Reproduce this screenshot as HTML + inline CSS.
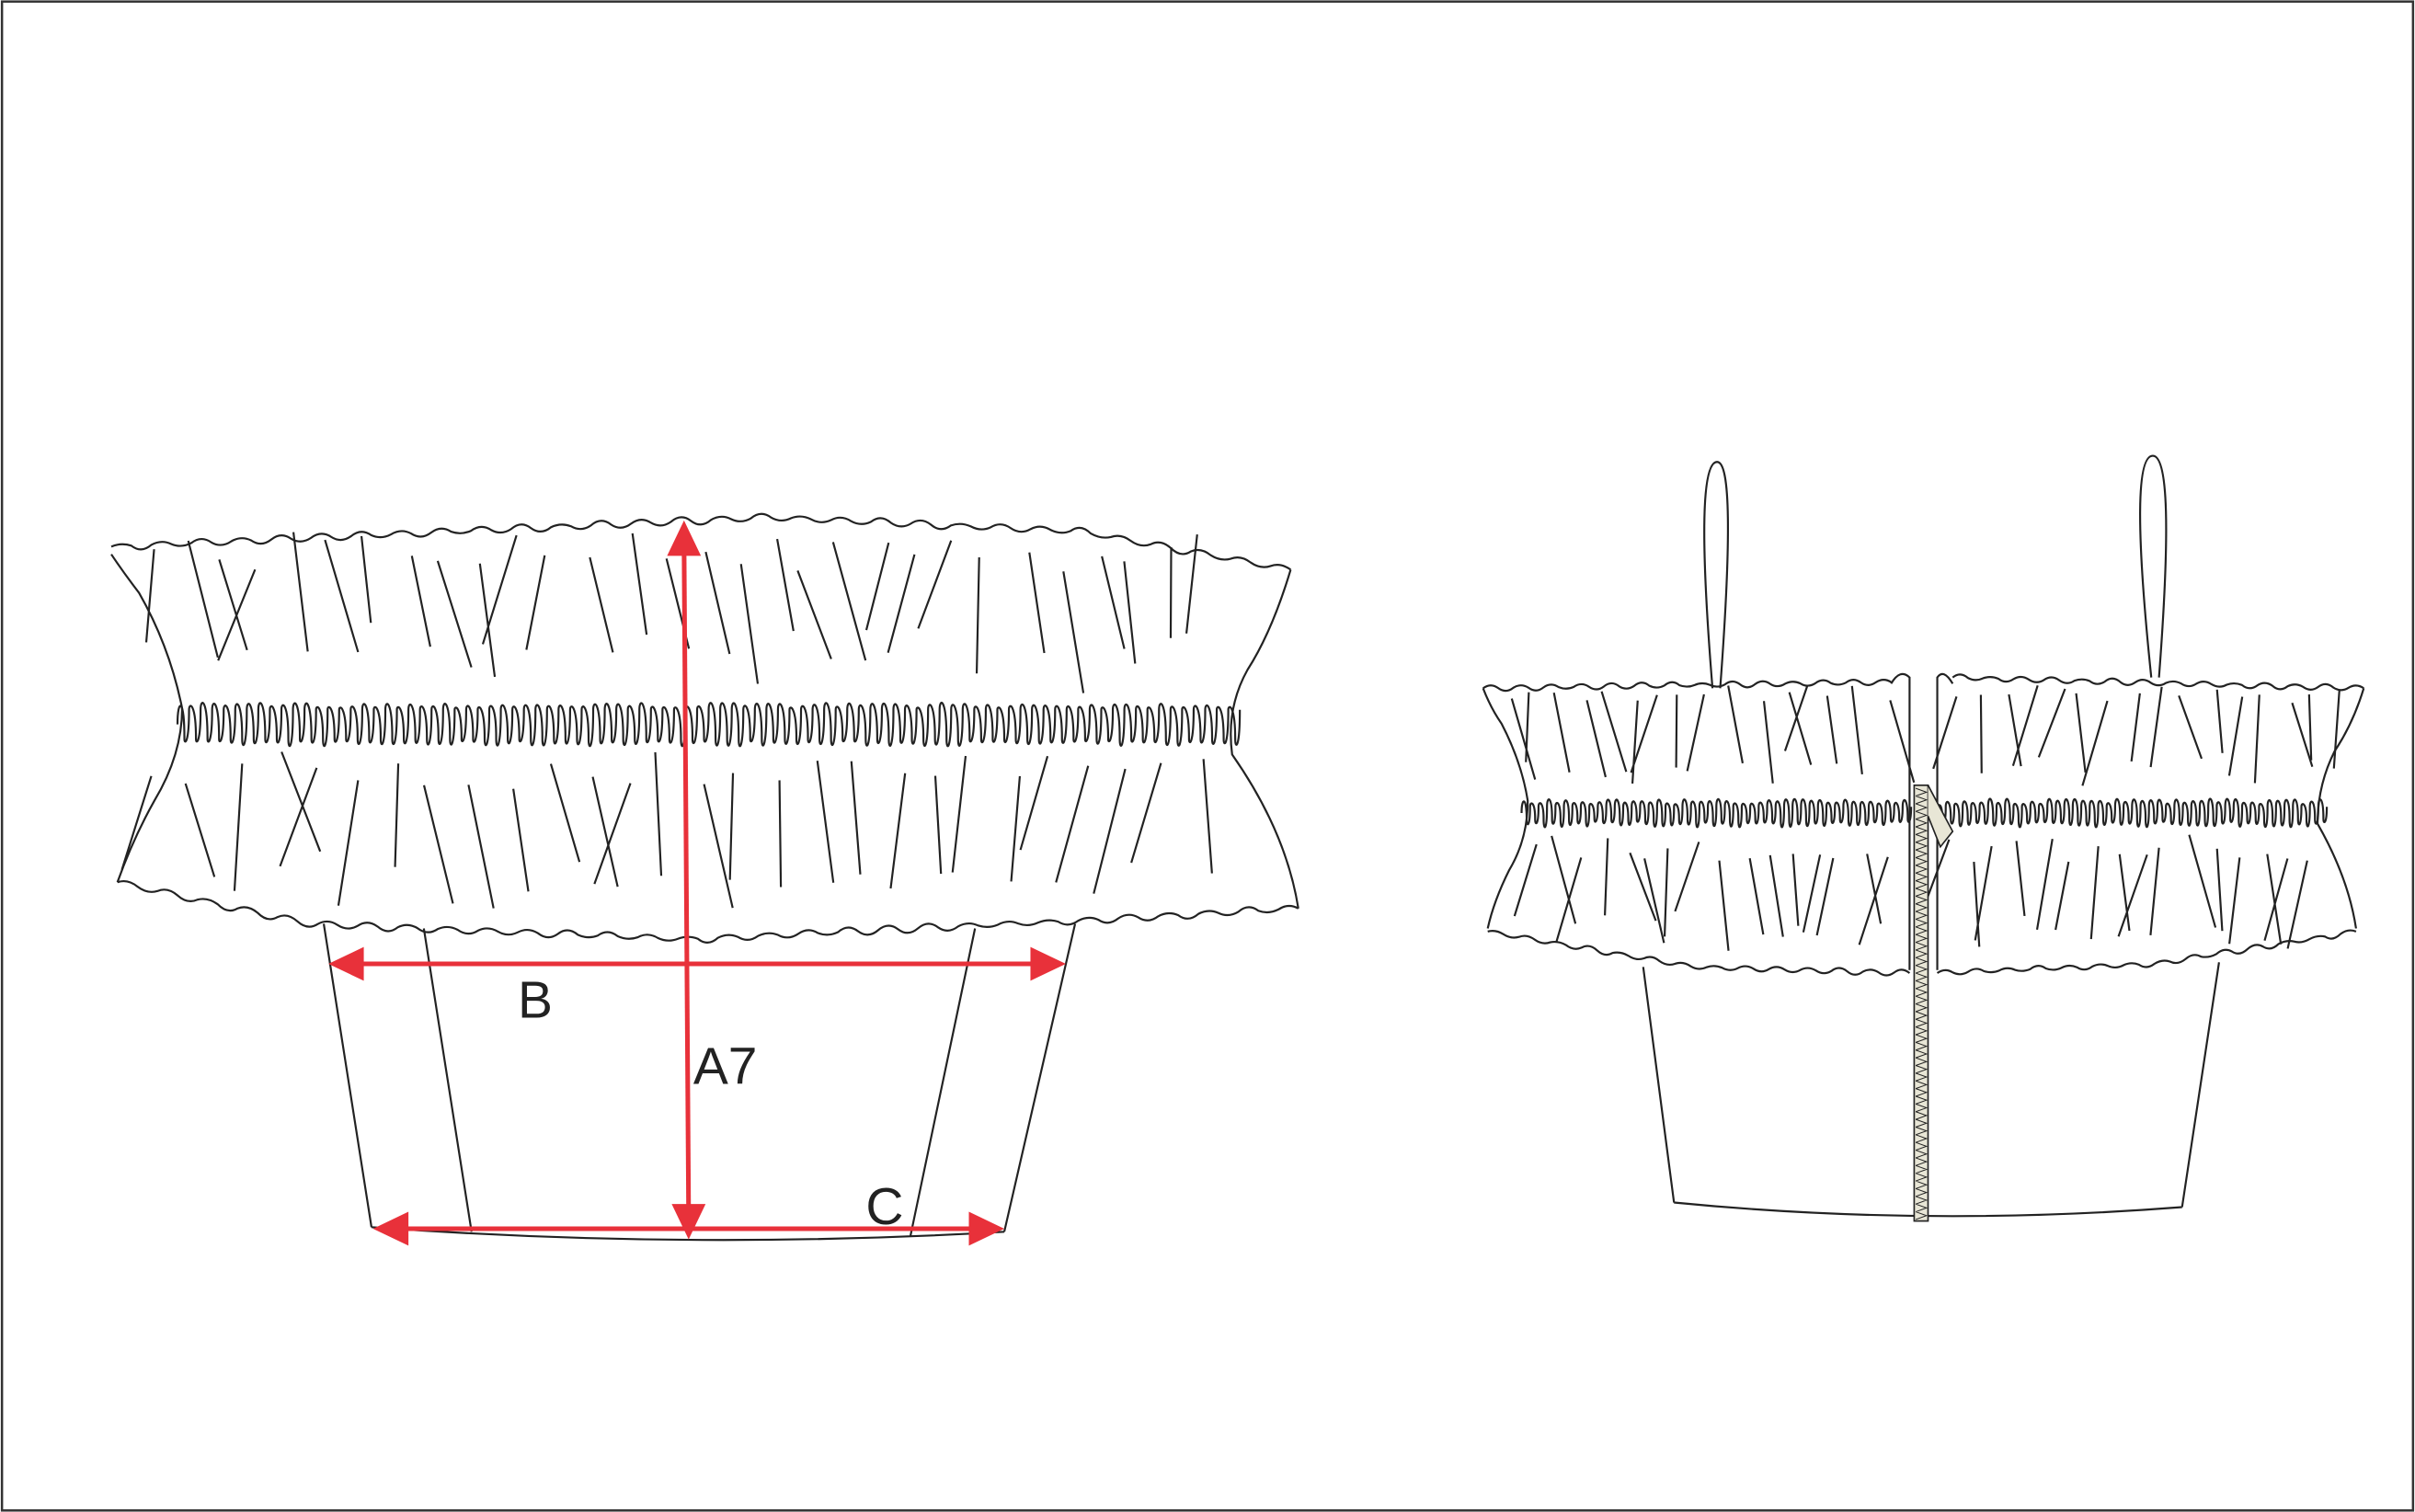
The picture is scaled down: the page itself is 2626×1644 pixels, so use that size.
<!DOCTYPE html>
<html><head><meta charset="utf-8"><style>
html,body{margin:0;padding:0;background:#fff}
svg{display:block}
text{font-family:"Liberation Sans",sans-serif;fill:#222}
</style></head><body>
<svg id="s" width="2626" height="1644" viewBox="0 0 1568 982" xmlns="http://www.w3.org/2000/svg">
<rect x="1" y="1" width="1566" height="980" fill="#fff" stroke="#333" stroke-width="1.5"/>
<g id="g" fill="none" stroke="#222" stroke-width="1.3">
<path d="M210,600 L241,797 M275,603 L306,800 M633,603 L591,803 M698,600 L652,800 M241,797 Q447,812 652,800"/>
<path d="M72,360 Q80,372 90,385 Q110,420 118,460 Q118,490 100,520 Q86,545 76,573"/>
<path d="M838,370 Q826,410 810,435 Q796,460 800,490 Q835,540 843,590"/>
<path d="M1067,628 L1087,781 M1441,625 L1417,784 M1087,781 Q1250,797 1417,784"/>
<path d="M963,447 Q968,460 975,470 Q988,495 992,520 Q992,545 980,565 Q970,585 966,603"/>
<path d="M1535,447 Q1528,470 1516,488 Q1505,510 1505,535 Q1525,570 1530,603"/>
<path d="M1112,447 Q1100,300 1115,300 Q1128,300 1117,447"/>
<path d="M1397,440 Q1382,296 1398,296 Q1413,296 1402,440"/>
<path d="M1240,630 L1240,440 Q1234,434 1228,444 M1258,630 L1258,440 Q1262,434 1268,444"/>
</g>
<g id="zip"></g>
<g fill="none" stroke="#e8313a" stroke-width="3">
<line x1="225" y1="626" x2="680" y2="626"/>
<line x1="255" y1="798" x2="640" y2="798"/>
<line x1="444" y1="352" x2="447" y2="792"/>
</g>
<g fill="#e8313a">
<polygon points="213,626 236,615 236,637"/>
<polygon points="692,626 669,615 669,637"/>
<polygon points="242,798 265,787 265,809"/>
<polygon points="652,798 629,787 629,809"/>
<polygon points="444,338 433,361 455,361"/>
<polygon points="447,805 436,782 458,782"/>
</g>
<text x="336" y="661" font-size="34">B</text>
<text x="450" y="704" font-size="34">A7</text>
<text x="562" y="795" font-size="34">C</text>
</svg>
<script>
var g=document.getElementById('g');var seed=7;function r(){seed=(seed*16807)%2147483647;return seed/2147483647;}
function P(d){var p=document.createElementNS('http://www.w3.org/2000/svg','path');p.setAttribute('d',d);g.appendChild(p);}
function yat(pts,x){for(var i=0;i<pts.length-1;i++){var a=pts[i],b=pts[i+1];if(x<=b[0]){var t=(x-a[0])/(b[0]-a[0]);return a[1]+(b[1]-a[1])*t;}}return pts[pts.length-1][1];}
function wavy(pts,amp,per){var x0=pts[0][0],x1=pts[pts.length-1][0];var n=Math.round((x1-x0)/per);var d='M'+x0+','+pts[0][1];for(var i=0;i<n;i++){var xa=x0+(x1-x0)*(i+0.5)/n,xb=x0+(x1-x0)*(i+1)/n;var ya=yat(pts,xa)+(i%2?amp:-amp)*(0.6+r()*0.8);d+=' Q'+xa.toFixed(1)+','+ya.toFixed(1)+' '+xb.toFixed(1)+','+yat(pts,xb).toFixed(1);}P(d);}
function smock(x0,x1,yt,yb,step){var d='M'+x0+','+((yt+yb)/2);for(var x=x0;x<x1;x+=step){var t=yt+r()*5,b=yb-r()*5;d+=' C'+(x).toFixed(1)+','+t+' '+(x+step*0.6).toFixed(1)+','+t+' '+(x+step*0.6).toFixed(1)+','+(yb-8)+' C'+(x+step*0.6).toFixed(1)+','+b+' '+(x+step).toFixed(1)+','+b+' '+(x+step).toFixed(1)+','+(yt+8);}P(d);}
function lines(x0,x1,y0,y1,n,len){var d='';for(var i=0;i<n;i++){var x=x0+(x1-x0)*(i+r()*0.6)/n,y=y0+r()*(y1-y0-len);var dx=(r()-0.5)*len*0.6;d+='M'+x.toFixed(1)+','+y.toFixed(1)+' L'+(x+dx).toFixed(1)+','+(y+len*(0.7+r()*0.3)).toFixed(1)+' ';}P(d);}
wavy([[72,355],[300,345],[500,336],[700,345],[838,370]],4,13);
wavy([[76,573],[200,600],[447,610],[700,598],[843,590]],4,13);
smock(115,800,453,488,7.5);
lines(90,800,345,452,30,80);lines(95,800,488,598,28,85);
wavy([[963,447],[1228,443]],3,10);wavy([[1268,440],[1535,447]],3,10);
wavy([[966,605],[1100,628],[1240,632]],3,10);wavy([[1258,632],[1400,626],[1530,605]],3,10);
smock(988,1240,516,540,5.5);smock(1258,1507,516,540,5.5);
lines(975,1235,445,515,16,58);lines(1265,1530,445,515,16,58);
lines(990,1235,542,622,16,62);lines(1262,1510,542,622,16,62);
var z=document.getElementById('zip');var h='<rect x="1243" y="510" width="9" height="283" fill="#e8e6d6" stroke="#222" stroke-width="1"/><path d="';for(var y=512;y<790;y+=5){h+='M1244,'+y+' L1251,'+(y+2.5)+' L1244,'+(y+5)+' ';}h+='" fill="none" stroke="#222" stroke-width="0.6"/><path d="M1252,510 L1268,540 L1260,550 L1252,530" fill="#e8e6d6" stroke="#222" stroke-width="1"/>';z.innerHTML=h;
</script>
</body></html>
